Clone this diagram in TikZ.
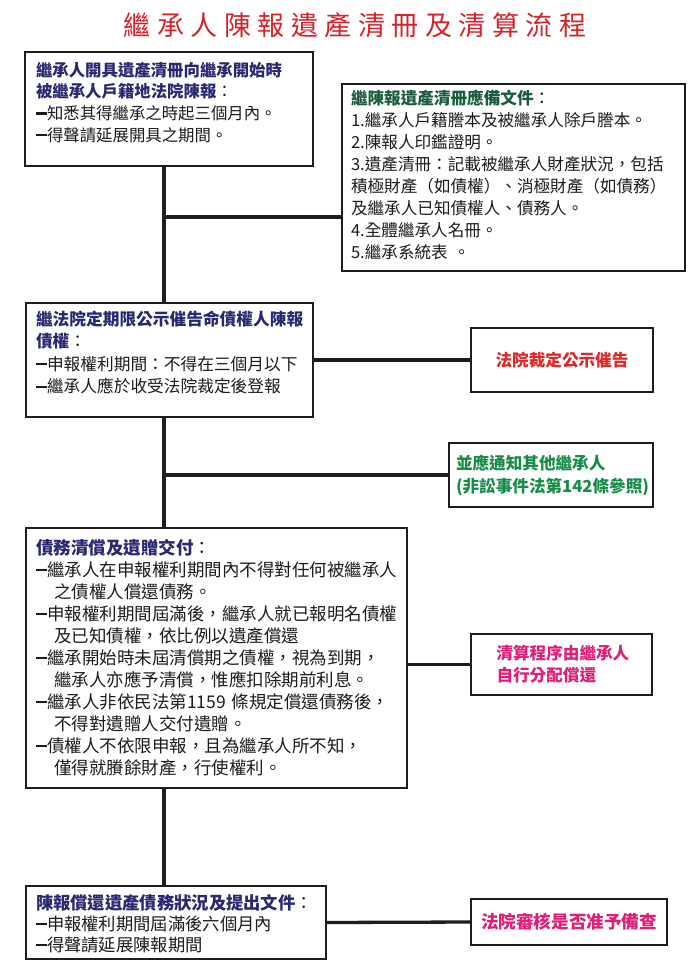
\documentclass[tikz,border=0pt]{standalone}
\usepackage{fontspec}
\setmainfont{Noto Sans CJK TC}
\newfontfamily\titlefont[LetterSpace=24]{Noto Sans CJK TC}
\definecolor{titlec}{RGB}{212,35,42}
\definecolor{navyc}{RGB}{42,40,112}
\definecolor{dgreenc}{RGB}{28,92,62}
\definecolor{redc}{RGB}{222,40,40}
\definecolor{greenc}{RGB}{22,140,72}
\definecolor{pinkc}{RGB}{222,30,120}
\definecolor{bodyc}{RGB}{28,28,28}
\definecolor{linec}{RGB}{30,30,30}
\newcommand{\hd}[1]{{\bfseries\color{navyc}#1}}
\newcommand{\hdg}[1]{{\bfseries\color{dgreenc}#1}}
\newcommand{\dsh}{\rule[0.3em]{11pt}{2.3pt}}
\newcommand{\ind}{\hspace*{18pt}}
\begin{document}
\begin{tikzpicture}[x=1pt,y=-1pt,
  box/.style={draw=linec, line width=2.2pt, inner sep=0pt, outer sep=0pt},
  conn/.style={draw=linec, line width=3.3pt},
  txt/.style={inner sep=0pt, outer sep=0pt, align=left, anchor=north west, text=bodyc},
  side/.style={box, font=\bfseries\fontsize{16.6}{22}\selectfont}]
\useasboundingbox (0,0) rectangle (700,973);
\fill[white] (0,0) rectangle (700,973);

\node[inner sep=0pt, text=titlec, font=\titlefont\fontsize{27}{30}\selectfont] (title) at (355,25.5) {繼承人陳報遺產清冊及清算流程};

% boxes
\node[box, minimum width=288pt, minimum height=114pt] (b1) at (168.7,109) {};
\node[box, minimum width=343pt, minimum height=187pt] (b2) at (513.5,177.5) {};
\node[box, minimum width=287pt, minimum height=114pt] (b3) at (169.1,360) {};
\node[box, minimum width=381.4pt, minimum height=260pt] (b4) at (216.3,658) {};
\node[box, minimum width=300.4pt, minimum height=73pt] (b5) at (175.8,922.5) {};

\node[side, minimum width=182pt, minimum height=64pt, text=redc] (r1) at (562,360) {法院裁定公示催告};
\node[side, minimum width=204pt, minimum height=64pt, text width=190pt, align=left, text=greenc, font=\bfseries\fontsize{16.6}{23}\selectfont] (r2) at (551,475) {並應通知其他繼承人\\(非訟事件法第142條參照)};
\node[side, minimum width=181pt, minimum height=61pt, text width=130pt, align=left, text=pinkc] (r3) at (561.5,664.5) {清算程序由繼承人\\自行分配償還};
\node[side, minimum width=196pt, minimum height=46pt, text=pinkc, font=\bfseries\fontsize{17.6}{22}\selectfont] (r4) at (569,922) {法院審核是否准予備查};

% texts
\node[txt, text width=275pt, font=\fontsize{16.4}{21.7}\selectfont] (t1) at (36,61.8)
 {\hd{繼承人開具遺產清冊向繼承開始時}\\
  \hd{被繼承人戶籍地法院陳報}：\\
  \dsh 知悉其得繼承之時起三個月內。\\
  \dsh 得聲請延展開具之期間。};
\node[txt, text width=330pt, font=\fontsize{16.6}{22}\selectfont] (t2) at (351,89.7)
 {\hdg{繼陳報遺產清冊應備文件}：\\
  1.繼承人戶籍謄本及被繼承人除戶謄本。\\
  2.陳報人印鑑證明。\\
  3.遺產清冊：記載被繼承人財產狀況，包括\\
  積極財產（如債權）、消極財產（如債務）\\
  及繼承人已知債權人、債務人。\\
  4.全體繼承人名冊。\\
  5.繼承系統表 。};
\node[txt, text width=275pt, font=\fontsize{16.7}{22.6}\selectfont] (t3) at (36,310.6)
 {\hd{繼法院定期限公示催告命債權人陳報}\\
  \hd{債權}：\\
  \dsh 申報權利期間：不得在三個月以下\\
  \dsh 繼承人應於收受法院裁定後登報};
\node[txt, text width=370pt, font=\fontsize{17.5}{22}\selectfont] (t4) at (36,539.2)
 {\hd{債務清償及遺贈交付}：\\
  \dsh 繼承人在申報權利期間內不得對任何被繼承人\\
  \ind 之債權人償還債務。\\
  \dsh 申報權利期間屆滿後，繼承人就已報明名債權\\
  \ind 及已知債權，依比例以遺產償還\\
  \dsh 繼承開始時未屆清償期之債權，視為到期，\\
  \ind 繼承人亦應予清償，惟應扣除期前利息。\\
  \dsh 繼承人非依民法第1159 條規定償還債務後，\\
  \ind 不得對遺贈人交付遺贈。\\
  \dsh 債權人不依限申報，且為繼承人所不知，\\
  \ind 僅得就賸餘財產，行使權利。};
\node[txt, text width=290pt, font=\fontsize{17.3}{21}\selectfont] (t5) at (36,894.5)
 {\hd{陳報償還遺產債務狀況及提出文件}：\\
  \dsh 申報權利期間屆滿後六個月內\\
  \dsh 得聲請延展陳報期間};

% connectors
\coordinate (j1) at (164,217);
\coordinate (j2) at (164,475);
\draw[conn] (b1.south -| j1) -- (b3.north -| j1);
\draw[conn] (j1) -- (b2.west |- j1);
\draw[conn] (b3.east) -- (r1.west);
\draw[conn] (b3.south -| j1) -- (b4.north -| j1);
\draw[conn] (j2) -- (r2.west |- j2);
\draw[conn] (b4.east |- r3.west) -- (r3.west);
\draw[conn] (b4.south -| j1) -- (b5.north -| j1);
\draw[conn] (b5.east) -- (r4.west);
\end{tikzpicture}
\end{document}
